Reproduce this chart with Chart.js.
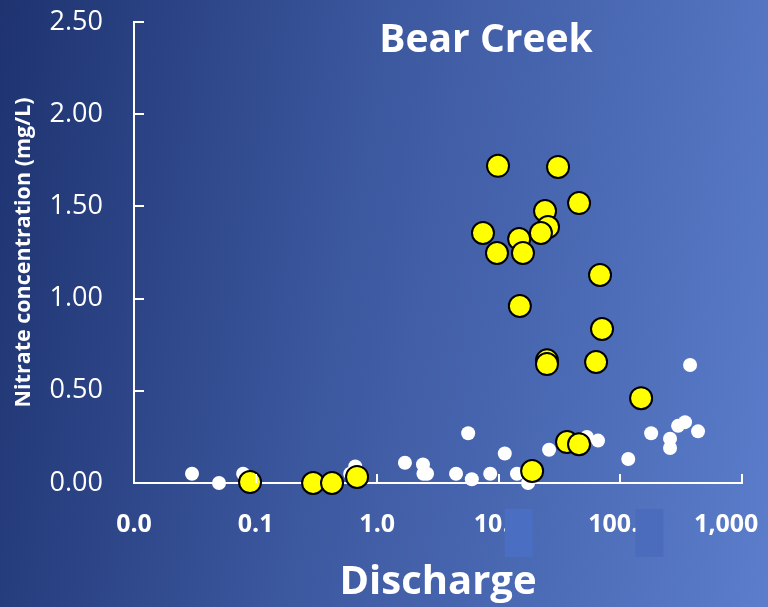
<!DOCTYPE html>
<html>
<head>
<meta charset="utf-8">
<script src="https://cdn.jsdelivr.net/npm/chart.js@4.4.1/dist/chart.umd.min.js"></script>
<style>
  html, body { margin: 0; padding: 0; }
  body {
    width: 768px; height: 607px; overflow: hidden;
    background: linear-gradient(100deg, #1e3370 0%, #3c589f 45%, #5b7dcb 100%);
  }
  canvas { display: block; }
</style>
</head>
<body>
<canvas id="c" width="768" height="607"></canvas>
<script>
// ---- Data ----
const chartTitle = "Bear Creek";
const xAxisTitle = "Discharge";
const yAxisTitle = "Nitrate concentration (mg/L)";

const xTickValues = [0.01, 0.1, 1, 10, 100, 1000];
const xTickLabels = ["0.0", "0.1", "1.0", "10.0", "100.0", "1,000"];
const yTickValues = [0, 0.5, 1, 1.5, 2, 2.5];
const yTickLabels = ["0.00", "0.50", "1.00", "1.50", "2.00", "2.50"];

// white (small) points
const whiteX = [0.030, 0.050, 0.079, 0.60, 0.66, 1.69, 2.38, 2.57, 2.40, 4.45, 6.0, 5.6, 8.5, 11.2, 14.1, 17.4, 25.9, 53, 65.5, 116, 179, 256, 256, 298, 340, 435, 374];
const whiteY = [0.05, 0.00, 0.05, 0.05, 0.09, 0.11, 0.10, 0.05, 0.05, 0.05, 0.02, 0.27, 0.05, 0.16, 0.05, 0.00, 0.18, 0.25, 0.23, 0.13, 0.27, 0.24, 0.19, 0.31, 0.33, 0.28, 0.64];

// yellow (large) points
const yellowX = [0.090, 0.297, 0.425, 0.683, 18.8, 36.4, 45.7, 148, 9.85, 30.7, 45.7, 24.0, 25.4, 22.2, 7.41, 14.7, 9.66, 15.8, 68, 14.9, 70.6, 24.9, 24.9, 63.1];
const yellowY = [0.005, 0.00, 0.00, 0.033, 0.065, 0.222, 0.21, 0.46, 1.72, 1.714, 1.518, 1.475, 1.388, 1.356, 1.356, 1.323, 1.247, 1.247, 1.128, 0.96, 0.835, 0.665, 0.645, 0.656];

const toPoints = (xs, ys) => xs.map((x, i) => ({ x: x, y: ys[i] }));

// ---- Plugins ----
const decorPlugin = {
  id: 'decor',
  afterDraw(chart) {
    const ctx = chart.ctx;
    const xs = chart.scales.x, ys = chart.scales.y;
    const a = chart.chartArea;
    ctx.save();
    // inside tick marks
    ctx.strokeStyle = '#ffffff';
    ctx.lineWidth = 2;
    ctx.beginPath();
    xTickValues.forEach(v => {
      const px = Math.round(xs.getPixelForValue(v));
      ctx.moveTo(px, a.bottom);
      ctx.lineTo(px, a.bottom - 9);
    });
    yTickValues.forEach(v => {
      const py = Math.round(ys.getPixelForValue(v));
      ctx.moveTo(a.left, py);
      ctx.lineTo(a.left + 10, py);
    });
    ctx.stroke();
    // blue patches over part of two tick labels (as in the reference)
    ctx.fillStyle = '#4a6ec1';
    ctx.fillRect(xs.getPixelForValue(10) + 6, a.bottom + 26, 28, 48);
    ctx.fillStyle = '#4b6cbd';
    ctx.fillRect(xs.getPixelForValue(100) + 15, a.bottom + 26, 28, 48);
    // title inside plot
    ctx.fillStyle = '#ffffff';
    ctx.font = 'bold 39px "Open Sans"';
    ctx.textAlign = 'center';
    ctx.textBaseline = 'middle';
    ctx.fillText(chartTitle, a.left + (a.right - a.left) * 0.579, a.top + 19);
    ctx.restore();
  }
};

new Chart(document.getElementById('c'), {
  type: 'scatter',
  data: {
    datasets: [
      {
        label: 'yellow',
        data: toPoints(yellowX, yellowY),
        backgroundColor: '#ffff00',
        borderColor: '#000000',
        borderWidth: 2,
        pointRadius: 11,
        clip: false
      },
      {
        label: 'white',
        data: toPoints(whiteX, whiteY),
        backgroundColor: '#ffffff',
        borderColor: '#ffffff',
        borderWidth: 0,
        pointRadius: 7,
        clip: false
      }
    ]
  },
  options: {
    responsive: false,
    animation: false,
    devicePixelRatio: 1,
    layout: { padding: { top: 22, right: 26, left: 0, bottom: 0 } },
    plugins: { legend: { display: false }, tooltip: { enabled: false }, title: { display: false } },
    scales: {
      x: {
        type: 'logarithmic',
        min: 0.01, max: 1000,
        afterBuildTicks: s => { s.ticks = xTickValues.map(v => ({ value: v })); },
        afterFit: s => { s.height = 124; s.paddingLeft = 0; s.paddingRight = 0; },
        grid: { display: false, drawTicks: false },
        border: { display: true, color: '#ffffff', width: 2 },
        ticks: {
          color: '#ffffff',
          font: { family: '"Open Sans"', size: 25, weight: 'bold' },
          padding: 27,
          maxRotation: 0, autoSkip: false,
          // last label is pulled inward (as in the reference) by padding it on the right
          callback: (v, i) => i === xTickLabels.length - 1 ? xTickLabels[i] + '\u2002\u2002 ' : xTickLabels[i]
        },
        title: {
          display: true, text: xAxisTitle, color: '#ffffff',
          font: { family: '"Open Sans"', size: 40, weight: 'bold' },
          padding: { top: 0, bottom: 0 }
        }
      },
      y: {
        type: 'linear',
        min: 0, max: 2.5,
        afterBuildTicks: s => { s.ticks = yTickValues.map(v => ({ value: v })); },
        afterFit: s => { s.width = 134; s.paddingTop = 0; s.paddingBottom = 0; },
        grid: { display: false, drawTicks: false },
        border: { display: true, color: '#ffffff', width: 2 },
        ticks: {
          color: '#ffffff',
          font: { family: '"Open Sans"', size: 27 },
          padding: 31,
          callback: (v, i) => yTickLabels[i]
        },
        title: {
          display: true, text: yAxisTitle, color: '#ffffff',
          font: { family: '"Open Sans"', size: 21.5, weight: 'bold' },
          padding: { top: 11, bottom: 0 }
        }
      }
    }
  },
  plugins: [decorPlugin]
});
</script>
</body>
</html>
